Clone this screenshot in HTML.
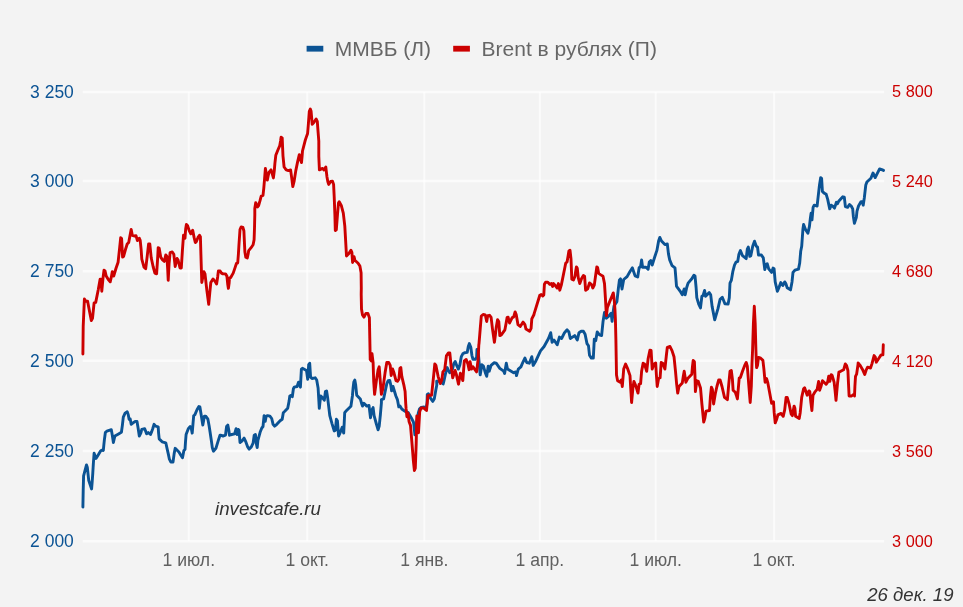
<!DOCTYPE html>
<html lang="ru"><head><meta charset="utf-8"><title>ММВБ и Brent в рублях</title>
<style>
html,body{margin:0;padding:0;background:#f3f3f3;}
svg{display:block;filter:blur(0.45px)}
text{font-family:"Liberation Sans",Arial,sans-serif}
.l{font-size:18.5px;fill:#0b5394}
.r{font-size:16.3px;fill:#cc0000}
.x{font-size:17.6px;fill:#606060;text-anchor:middle}
.lg{font-size:21px;fill:#666}
.it{font-style:italic;fill:#333}
</style></head><body>
<svg width="963" height="607" viewBox="0 0 963 607">
<rect width="963" height="607" fill="#f3f3f3"/>
<g stroke="#fff" stroke-width="2.5" stroke-opacity="0.68" fill="none">
<line x1="82.7" y1="92.0" x2="884.2" y2="92.0"/>
<line x1="82.7" y1="181.1" x2="884.2" y2="181.1"/>
<line x1="82.7" y1="271.3" x2="884.2" y2="271.3"/>
<line x1="82.7" y1="360.8" x2="884.2" y2="360.8"/>
<line x1="82.7" y1="451.0" x2="884.2" y2="451.0"/>
<line x1="82.7" y1="541.3" x2="884.2" y2="541.3"/>
</g>
<g stroke="#fff" stroke-width="2.1" stroke-opacity="0.62" fill="none">
<line x1="188.8" y1="92" x2="188.8" y2="541"/>
<line x1="307.2" y1="92" x2="307.2" y2="541"/>
<line x1="424.3" y1="92" x2="424.3" y2="541"/>
<line x1="539.9" y1="92" x2="539.9" y2="541"/>
<line x1="655.7" y1="92" x2="655.7" y2="541"/>
<line x1="774.1" y1="92" x2="774.1" y2="541"/>
</g>
<text class="l" transform="translate(30.1,98) scale(0.945,1)">3 250</text>
<text class="l" transform="translate(30.1,187.1) scale(0.945,1)">3 000</text>
<text class="l" transform="translate(30.1,277.3) scale(0.945,1)">2 750</text>
<text class="l" transform="translate(30.1,366.8) scale(0.945,1)">2 500</text>
<text class="l" transform="translate(30.1,457) scale(0.945,1)">2 250</text>
<text class="l" transform="translate(30.1,547.3) scale(0.945,1)">2 000</text>
<text class="r" x="892.1" y="97">5 800</text>
<text class="r" x="892.1" y="186.9">5 240</text>
<text class="r" x="892.1" y="277.1">4 680</text>
<text class="r" x="892.1" y="366.6">4 120</text>
<text class="r" x="892.1" y="456.8">3 560</text>
<text class="r" x="892.1" y="547.1">3 000</text>
<text class="x" x="188.8" y="566.4">1 июл.</text>
<text class="x" x="307.2" y="566.4">1 окт.</text>
<text class="x" x="424.3" y="566.4">1 янв.</text>
<text class="x" x="539.9" y="566.4">1 апр.</text>
<text class="x" x="655.7" y="566.4">1 июл.</text>
<text class="x" x="774.1" y="566.4">1 окт.</text>
<rect x="306.6" y="45.8" width="16.7" height="5.8" fill="#0b5394"/>
<text class="lg" x="334.7" y="55.7">ММВБ (Л)</text>
<rect x="453.2" y="45.8" width="16.7" height="5.8" fill="#cc0000"/>
<text class="lg" x="481.6" y="55.7">Brent в рублях (П)</text>
<text class="it" x="215" y="514.7" font-size="18.7">investcafe.ru</text>
<text class="it" x="953.5" y="600.6" font-size="18.6" text-anchor="end">26 дек. 19</text>
<path d="M82.9,507.1 L83.2,490.4 L83.6,475.9 L85.1,470.1 L86.5,465 L87.3,467.2 L88.7,480.2 L90.2,484.9 L91.6,489 L92.2,481.7 L92.8,473 L93.4,462.8 L94.1,453.3 L96,458.5 L98.2,454.9 L100.4,451.2 L101.8,450.1 L103.3,450.5 L103.8,445.4 L104.4,439.6 L105.4,432.3 L106.9,431.2 L109.1,430.4 L111.3,429.7 L112.3,435.2 L113.4,442.5 L114.2,438.9 L114.9,436 L118.1,434.2 L121.4,432.3 L122.4,425.1 L123.3,417.1 L125.1,413.1 L127.2,411.7 L128.3,414.9 L129.1,419.2 L130.2,419 L131.2,424.3 L133.1,422.9 L135.2,421.4 L137,421.4 L138.1,428 L139.3,436 L140.8,433.1 L141.8,429.4 L144.7,428.7 L146.6,433.8 L148.3,432.6 L150.5,434.5 L151.7,431.6 L152.7,428.7 L154.1,424.3 L155.6,426.2 L158.2,426.8 L158.6,433.1 L159.2,438.9 L162.1,441.8 L165.8,442.8 L167.2,449.1 L168.4,454.4 L169.4,459.2 L170.9,462.1 L173,462.1 L174.2,453.4 L175.2,448.3 L178.9,452 L180.7,454.9 L182.5,457.8 L183.9,450.5 L185,449.5 L185.5,441.8 L186.1,434.5 L188.3,428.7 L190.2,426.5 L191.2,428 L192.2,433.1 L193,423.6 L193.7,415.6 L194.8,414.9 L197,409.8 L198.9,406.5 L199.9,406.9 L201.4,416.3 L202.8,425.1 L203.6,420.7 L204.3,416.3 L205.7,416.1 L207.9,419.2 L209.1,425.8 L210.1,432.3 L211.3,440.3 L212.3,447.6 L213.4,451.2 L215.9,448.3 L218.1,441.1 L220,435.2 L220.5,435.2 L223,436 L225.5,435.2 L226,430.9 L226.6,426.5 L227.8,425.1 L228.8,430.2 L229.5,435.2 L231.7,434.5 L234.6,433.8 L236.1,428.7 L237.1,434.5 L238.3,429.4 L239,430.2 L240,442.5 L241.9,441.1 L244.1,438.1 L245.5,441.1 L247.7,446.9 L249.2,449.1 L251.3,446.9 L253.1,443.2 L254.2,435.2 L255.4,434.5 L256.4,444 L257.2,447.6 L257.9,440.3 L260.1,432.3 L261.8,428 L263,426.5 L264.1,415.6 L265.2,421.4 L266.2,416.3 L267.6,415.6 L269.9,416.1 L271.7,418.5 L273.1,424.3 L274.6,426.2 L276.8,424.3 L280.1,420.7 L282.2,419.2 L283.3,412.7 L284.8,411.3 L287.7,408.3 L289.1,401.1 L289.8,396 L291.3,395.2 L292.3,396.7 L293.4,388.7 L294.2,387.2 L297.1,386.5 L298.5,382.2 L299.2,382.4 L300.4,387.2 L301.4,369.1 L302.4,368.3 L306.5,370.5 L307.7,379.2 L308.7,364.7 L309.7,363.3 L310.6,377.1 L312,378.5 L315.2,377.8 L316.7,380 L318.1,388 L318.7,398.1 L319.3,408.3 L320,401.8 L320.8,396 L322.8,398.1 L324.3,400.3 L325.4,391.6 L326.6,390.9 L327.6,397.4 L329.8,415.6 L332,423.6 L334.2,430.9 L335.4,430.2 L336.4,419.2 L337.4,420.7 L338.6,436 L340,433.1 L342.2,427.2 L343.7,433.1 L344.7,412.7 L345.8,411.3 L350.9,406.2 L352.4,396 L353.1,388 L353.8,382.2 L354.8,380 L355.7,385.1 L356.7,395.2 L360.3,398.9 L361.8,404 L362.5,406.1 L363.9,403.2 L366.8,406.1 L369,405.4 L370.5,417.8 L371.6,410.5 L373.1,407.6 L374.1,415.6 L376.1,423 L378.1,429.8 L379.2,426.2 L380.4,414.5 L381.4,402.9 L381.4,399.6 L383.6,398.9 L385,392.3 L386.8,383.6 L388.2,380.7 L389.7,380.4 L390.8,385.1 L391.6,390.9 L393,386.5 L395.9,396 L397.4,399.6 L398.8,406.9 L400,406.1 L401.8,409 L404.7,411.1 L408.3,412.6 L411.2,417.7 L413.4,422 L413.8,424 L414.9,434.9 L416.8,421.3 L418.3,413 L419.6,408.8 L421.2,407.4 L424.1,407 L425.9,409.4 L427,403.2 L427.3,394.4 L428.4,393.7 L429.9,397.4 L432.8,401.4 L434.3,398.8 L435.7,390.8 L436.8,385 L436.7,381.3 L440.3,381.4 L443.2,384 L444,380.7 L445.4,374.2 L447.2,367.6 L448.4,370.2 L449.7,372.7 L451.2,371.3 L452.6,368.7 L453.7,364 L455.2,361.4 L457,366.2 L458.4,369.1 L459.9,364.7 L461.3,356.7 L462.8,353.8 L464.6,352.7 L467.2,352.4 L468.3,346.5 L469.3,343.6 L470.8,347.3 L471.9,355.3 L473,359.3 L475.2,359.3 L476.6,357.4 L477,349.4 L478,349.4 L479,361.1 L480.2,374.9 L481.9,364.7 L483.4,366.1 L485.3,372.7 L486.7,376.3 L488.2,366.1 L489.2,371.2 L491.1,365.4 L494,362.8 L496.2,363.2 L499.8,368.3 L503.7,371.2 L504.6,373.4 L506.3,363.2 L507.5,369.1 L513.6,372.7 L515.8,372 L516.5,375.6 L518.3,369.1 L520.9,366.9 L523.1,361.8 L524.9,358.1 L526.7,362.5 L529.3,363.2 L531.8,356.7 L533.2,365.4 L535.4,361.8 L540.5,350.9 L544.1,346.5 L548.5,338.5 L550.7,332.7 L552.1,342.2 L554,340 L557.2,344.8 L559.4,337.1 L561.6,338.5 L564.5,332.7 L567.1,329.8 L568.9,332 L570.3,338.5 L574.7,335.6 L577.3,340 L579,332.7 L581.2,331.3 L583.4,331.3 L585.1,334.2 L587,343.6 L588.5,345.8 L589.5,355.2 L591.4,358.1 L593.3,358.1 L594.3,339.2 L595.7,340.7 L597.2,332 L599.4,334.9 L601.6,335.6 L603,321.8 L604.5,312.4 L606.4,318.2 L608.1,316.7 L611.1,313.3 L612.1,321.3 L613,313.3 L614,306 L616.9,301.6 L618.3,289 L619.4,280.2 L620.5,278.8 L622,289 L623.7,279.5 L627.1,276.6 L630,271.5 L632.4,267.9 L633.6,271.5 L635.1,275.9 L637.7,277 L639.1,267.9 L640.6,266.4 L641.6,259.9 L642.6,267.2 L646,267.2 L648.1,269.3 L649.3,262.1 L650.8,260.6 L652.2,265 L654.7,257 L656.9,250.4 L658.6,241 L659.8,237.4 L661.5,241 L664.9,244.6 L667.3,243.9 L668.5,254.1 L669.7,259.9 L672.1,265.7 L675,267.9 L675.8,277.3 L676.5,286.1 L677.9,288.2 L680.1,291.1 L682.3,294.8 L684.2,289 L685.2,294.8 L686.7,287.5 L688.1,283.1 L691.8,278.8 L693.9,275.2 L695,275.9 L696.1,287.5 L696.8,297.7 L698.7,304.2 L700.5,307.9 L701.9,296.2 L703.1,295.5 L704.6,290.4 L705.6,296.2 L709.2,292.6 L710.7,294.8 L712.1,306.4 L714.7,319.8 L717.9,308.9 L720.1,299.4 L722.3,297.3 L724.9,303.8 L728.1,304.1 L729.3,297.7 L730,283.1 L731.3,280.4 L732.8,271.7 L734.5,265.2 L736,262.2 L737.7,261.5 L738.9,254.2 L740.4,250.6 L742.5,255.7 L746.2,258.6 L747.3,249.2 L748.3,247 L749.8,256.4 L750.8,255.7 L752.7,246.3 L754.5,241.2 L756.3,246.3 L757.5,247 L758.5,255 L761.4,255 L763.3,257.9 L764.8,269.5 L766.2,264.4 L767.2,263.7 L768.7,268.8 L771.6,272.4 L773.1,268.1 L774.1,268.8 L775.2,281.9 L777.4,291.3 L778.9,287.7 L780.8,282.6 L782.8,285.5 L784.7,281.9 L785.7,283.3 L787.2,287.7 L790.5,289.9 L792,281.9 L793,272.4 L794.9,270.2 L798.5,269.1 L799.7,263 L800.7,251.3 L801.7,246.3 L802.9,229.5 L803.6,224.4 L805.5,229.5 L807.9,233.2 L809.4,226.6 L810.4,217.9 L811.1,213.2 L812,219.8 L813.1,207.4 L814.2,205.2 L817.1,206 L818.5,193.6 L819.5,184.9 L820.7,177.6 L821.6,178.3 L822.4,191.4 L823.9,192.9 L826.2,194.3 L827.7,199.4 L829.7,208.9 L831.2,205.2 L832.6,206 L834.5,208.1 L836.4,202.3 L837.4,203.8 L838.9,200.9 L842.8,196.8 L844.3,197.2 L845.4,206.7 L847.6,207.4 L849.5,204.5 L851.2,206 L852.7,208.9 L853.4,216.9 L854.4,223.4 L856.3,217.6 L857,211.1 L858.5,206 L861.1,201.6 L862.1,201.6 L863.2,205.2 L864.3,198 L865.8,184.9 L866.9,182 L870.9,178.3 L873,173 L875.2,177.6 L876.7,174.7 L879.6,168.9 L881.8,169.6 L883.5,170.4" fill="none" stroke="#0b5394" stroke-width="2.9" stroke-linejoin="round" stroke-linecap="round"/>
<path d="M82.9,354 L83.2,326.3 L84.4,299 L85.8,301.3 L87.6,301.3 L89.6,311.8 L91.3,320.5 L92.5,318.3 L94.1,302.8 L95.7,302.4 L98.2,290 L100.1,279.3 L100.9,279.3 L101.8,291.2 L103,278.1 L104,270.2 L105,270.9 L106.2,276 L108.3,279.6 L110.2,281.8 L111.4,276.7 L112.3,271.6 L113.7,276 L116.1,268 L118.1,262.2 L119.5,249.1 L120.7,237.7 L121.6,238.6 L122.6,257.1 L123.6,256.3 L125.4,249.8 L127.2,244 L128.7,242.5 L130.2,234.5 L131.2,229.4 L132.3,235.3 L134.1,236 L136,235.7 L137.4,240.6 L139.3,238.2 L140.2,240.4 L141.1,249.1 L141.8,259.2 L144,267.2 L145.7,268.7 L147.2,256.3 L148.6,244 L149.8,244 L151.2,257.8 L153.1,266.5 L154.9,273.1 L156.6,273.8 L157.5,260.7 L158.2,247.6 L159.2,248.3 L160.7,257.1 L162.6,260 L164.3,261.4 L165.8,254.9 L166.9,256.3 L167.7,269.4 L168.2,280.3 L169.1,263.6 L170.1,252.7 L172.3,252 L173.8,254.2 L175.2,266.5 L177.1,258.5 L178.1,260 L180,268 L181.3,268 L182.5,249.1 L183.5,235.3 L185,238.2 L185.7,228.7 L186.4,224.4 L187.6,225.8 L189.3,230.9 L190.8,233.8 L192.7,230.2 L194.1,237.4 L195.3,242.5 L196.3,241.8 L198,237.4 L199.5,235.3 L200.4,236.7 L201.1,260.7 L201.8,282.5 L203.9,271.6 L205,273.8 L206.8,289.8 L208.7,304.3 L209.8,292.7 L210.8,282.5 L213,278.9 L214.9,281.1 L216.6,284 L217.7,276.7 L218.4,270.9 L220,270.9 L220.1,271 L221.5,273.1 L223,273.9 L225.5,273.9 L226.9,276.1 L227.8,284.8 L228.4,288.4 L229.1,283.3 L229.5,277.8 L230.7,277.5 L233.2,273.1 L235.4,266.6 L236.5,263.3 L237.7,263 L238.4,254.2 L239,244.1 L240,229.5 L241.2,226.9 L242.9,227.4 L243.9,231 L244.5,244.1 L244.9,252.1 L245.8,257.2 L247.3,257.9 L248.1,254.2 L248.7,250.6 L251.1,247.7 L253.1,244.8 L254.1,239.7 L254.5,228.1 L254.8,215 L254.8,208.4 L255.7,202.6 L257.4,207 L258.6,205.5 L260.1,200.4 L261.2,196.1 L263,195.3 L263.8,188.1 L264.4,180.8 L265.4,168.4 L266.5,175 L267.3,180.1 L268.2,175.7 L269.1,172.1 L271,169.9 L272.3,174.2 L273.4,177.9 L274.3,170.6 L274.9,163.3 L275.8,155.3 L277.8,150.3 L279.7,145.9 L280.6,140.8 L281.1,137.2 L282.2,137.9 L282.6,147.4 L283,156.1 L284.1,167 L286.2,169.9 L288.4,170.6 L290.6,169.9 L291.8,178.6 L292.8,186.6 L294.2,180.8 L295.8,170.6 L297.6,161.9 L299.3,154.6 L300.5,159 L301.5,162.6 L302.1,156.1 L302.5,151 L305.1,140.8 L306.9,135.4 L307.6,133.5 L308.4,123.6 L309.3,111.3 L310.3,109.1 L311.1,111.3 L312.2,124.3 L314,122.2 L316.1,119 L317.3,121.4 L318,130.9 L318.8,141.1 L318.8,156.1 L319.4,169.9 L322.6,168.4 L324,169.9 L325.8,167 L326.4,172.1 L326.9,176.4 L327.8,181.5 L328.7,184.4 L330.6,181.5 L332.5,181.2 L333.6,184.4 L334.2,196.8 L334.9,214.9 L335.3,230.5 L336.3,229.8 L337.5,214.5 L338.5,202.9 L339.2,201.7 L341.4,205.8 L343.3,213.1 L344.8,226.2 L345.8,243.6 L346.5,256 L348.7,253.8 L350.9,250.2 L351.9,252.3 L352.6,262.5 L354.1,256.7 L354.9,260.3 L358.1,263.2 L359.9,266.1 L361.1,272.7 L361.3,287.9 L361.2,294.5 L361.5,309.1 L362.5,314.9 L364,317.1 L365.9,313.4 L367.9,313.4 L369.4,317.8 L369.8,338.1 L370.2,358.5 L370.2,359.5 L371.3,361 L372,353.7 L373.1,362.4 L373.7,381.3 L374.6,394.4 L376.3,381.3 L378.1,369.7 L379.2,366.8 L380.3,381.3 L381.4,394.4 L382.9,388.6 L385.1,372.6 L386.8,362.4 L388.7,362.4 L390.2,365.4 L391.2,375.5 L392.6,369 L394.1,373.3 L396,380.6 L397.4,381.3 L398.9,379.2 L399.9,368.3 L400.8,367.5 L401.8,376.3 L404,385.7 L405.1,391.5 L405.7,403.1 L406.1,408.7 L406.9,416.7 L408,413.1 L409.1,421.8 L410.5,425.4 L412,443.6 L413.4,461.1 L414.4,470.5 L415.3,468.3 L416.2,443.6 L416.8,416 L417.5,416.7 L418.5,432.7 L419.7,411.6 L421.1,408 L423.6,408 L426.5,410.5 L427.9,395.9 L429.4,395.2 L431.6,395.2 L433.8,374.1 L434.8,363.9 L435.9,365.4 L438.1,376.3 L440.3,383.5 L441.8,379.9 L442.9,371.9 L444.7,369.7 L446.4,355.9 L448.3,353 L449.8,353 L451.2,366.8 L452.7,377.7 L455.1,370.4 L456.3,374.1 L458.5,384.2 L460.4,373.3 L461.4,375.5 L462.8,380.6 L464.3,361 L466.2,359.5 L467.9,363.9 L469.1,369.7 L470.1,361.7 L471.6,369 L473,366.8 L476.6,371.9 L478.1,359.5 L478.8,345 L479,343.6 L480.2,329.1 L481.3,316 L483.1,314.5 L485.3,315 L486.7,321.5 L487.7,315.7 L489.6,315.3 L491.1,317.4 L492.5,329.1 L494.4,342.2 L495.4,334.9 L496.2,327.6 L497.6,319.6 L498.8,321.8 L499.8,335.6 L501.3,334.9 L504.9,329.8 L506.1,323.3 L507.1,317.4 L508.1,317.2 L509.5,323 L512.2,317.7 L513.6,317.2 L515.1,311.9 L516.2,314.5 L518,324.7 L520.2,326.5 L523.1,322.1 L524.9,324.7 L526,329.1 L529.6,331.3 L531.1,328.3 L531.8,318.9 L534,314.5 L534,314.1 L539.8,295.2 L541.2,294.5 L542.7,296 L543.8,294.9 L544.4,284.3 L545.6,282.2 L547.8,282.2 L549.7,284.3 L551.4,283.6 L552.6,286.5 L553.6,283.6 L555.5,285.8 L557.2,288 L558.4,283.6 L559.8,290.2 L561.3,285.1 L563.5,274.2 L565.7,263.3 L567.1,261.8 L568.1,256 L568.9,250.9 L570,250.2 L571,258.9 L571.8,279.2 L573.5,280 L575,276.3 L575.7,271.3 L576.4,266.9 L577.3,268.3 L578.3,277.8 L579.8,283.6 L581.6,278.5 L583.4,275.6 L584.6,276.3 L585.6,290.2 L587.7,288.7 L589.5,282.9 L591.4,284.3 L592.8,288 L594.3,285.1 L595.6,275.6 L596.8,266.9 L597.6,267.6 L598.7,273.4 L600.8,274.9 L603,276.3 L604.5,283.6 L605.5,299.6 L606.4,315.6 L606.4,315.6 L607.4,307.4 L609.6,301.9 L611.8,296.5 L613.3,292.9 L614.4,301.6 L615,310.4 L615.4,319.1 L615.9,340 L616.2,357.4 L616.5,374.9 L617.6,380.7 L620.2,382.2 L621.3,380 L622.3,386.5 L623,377.8 L623.7,369.1 L625.6,364 L627.5,368.3 L630,375.6 L630.7,388 L631.6,402.5 L632.9,388 L633.9,381.4 L635.8,385.8 L638,393.1 L639.1,384.3 L640.6,383.6 L641.6,371.3 L643.1,363.3 L644.5,364 L646.7,371.3 L648.1,358.9 L649.9,350.2 L651.1,350.5 L652.2,369.1 L654,364 L655.7,363 L656.4,374.9 L657.2,386.5 L658.6,378.5 L660.1,377.8 L661.2,362.5 L662.7,363.3 L664.9,369.1 L666.3,356 L667.3,347.3 L670,346.5 L672.1,350.9 L674,356.7 L675.5,371.3 L676.6,383.6 L677.7,393.1 L679,386.5 L682.3,382.9 L683.3,376.3 L684.2,371.3 L685.9,382.2 L687.7,378.5 L691.8,374.2 L692.5,366.2 L693.2,360.4 L694.4,361.8 L695,376.3 L695.4,391.6 L696.8,380.7 L698.3,381.4 L700.5,388 L701.9,404 L703.7,422.1 L704.8,418.5 L706,411.2 L709.5,410.5 L710.4,396.7 L711.4,387.2 L712.4,389.4 L713.6,404 L715.3,393.8 L716.9,386.5 L718.7,380 L720.1,380 L722,386.5 L724.5,397.4 L727.4,399.6 L728.8,383.6 L730,371.3 L731.3,370.5 L732.4,379.2 L733.1,390.2 L735.3,392.3 L736.3,395.2 L737.4,398.9 L738.6,385.1 L739.2,378.1 L740.4,377.5 L742.5,371.3 L744.7,365.4 L746.2,362.5 L747.3,366.2 L748.8,385.1 L750.2,402.5 L751.3,386.5 L752,363.3 L752.6,349.8 L753.4,323.6 L754.3,306.2 L755.2,323.6 L755.9,349.8 L756.3,361.8 L756.6,367.6 L757.5,365.4 L758.5,357.4 L760.7,358.2 L762.9,360.4 L763.9,369.1 L765.1,382.2 L766.5,378.5 L767.7,382.2 L769.7,393.1 L771.6,403.2 L773.5,401.8 L774.2,412.7 L775.2,422.9 L776.7,419.2 L777.9,414.9 L781.1,413.4 L783.2,416.3 L784.7,409.8 L786.1,397.4 L787.2,397.4 L789.1,404 L791.2,414.1 L792.4,415.6 L794.1,406.1 L794.9,408.3 L795.6,416.3 L799.2,418.5 L800.2,412.7 L801.7,397.4 L803.6,388.7 L804.6,387.7 L807.2,395.2 L809,390.9 L809.8,391.6 L810.9,402.5 L811.9,410.5 L813,395.2 L815.2,391.6 L817.1,389.4 L818.6,381.4 L819.6,390.2 L821,386.5 L822.5,380.7 L826.1,384.3 L827.6,382.2 L828.7,376.3 L829.8,381.4 L831.2,374.6 L832.2,375.6 L834.1,382.2 L835.1,390.9 L836,400.3 L837.5,383.6 L838.9,372 L840.7,371.3 L843.6,369.8 L845.3,364 L846.5,365.4 L847.9,370.5 L848.5,383.6 L849.1,396 L851.6,396 L853.4,394.5 L854.5,396 L854.9,386.5 L855.5,376.3 L856.6,374.2 L858.1,364 L858.1,362.9 L859.9,365.1 L862.5,369.4 L864.7,374.5 L866.1,370.2 L867.6,367.2 L870.5,368 L872,363.6 L874.1,355.6 L875.3,357.1 L876.3,362.2 L879.2,357.8 L881.1,354.9 L882.9,354.9 L883.3,344.7" fill="none" stroke="#cc0000" stroke-width="2.9" stroke-linejoin="round" stroke-linecap="round"/>
</svg>
</body></html>
